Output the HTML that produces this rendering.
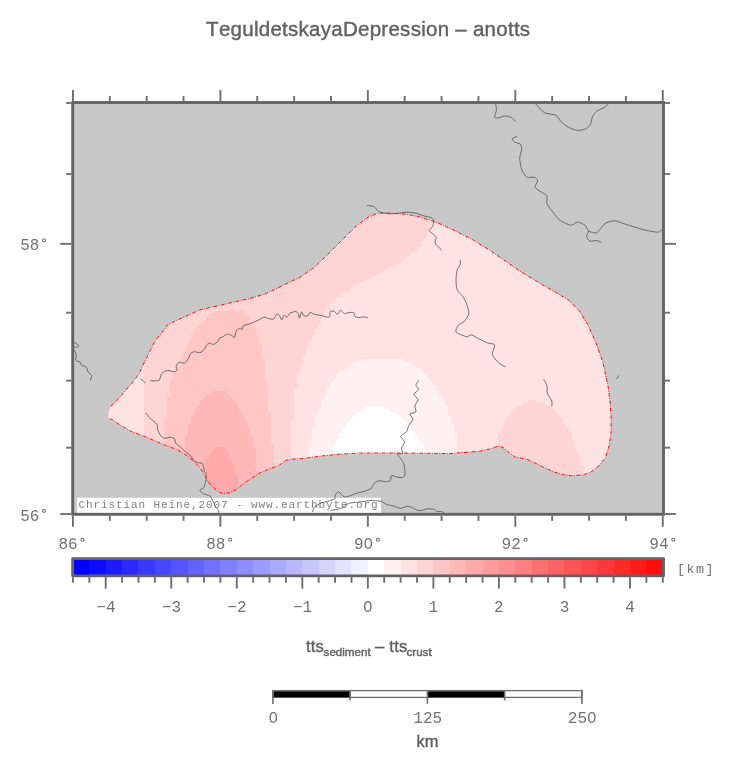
<!DOCTYPE html>
<html><head><meta charset="utf-8"><title>TeguldetskayaDepression - anotts</title>
<style>
html,body{margin:0;padding:0;background:#fff;}
body{width:731px;height:768px;overflow:hidden;}
svg{display:block;will-change:transform;}
text{font-kerning:none;font-variant-ligatures:none;}
.mono{font-family:"Liberation Mono",monospace;}
.sans{font-family:"Liberation Sans",sans-serif;}
</style></head><body>
<svg width="731" height="768" viewBox="0 0 731 768">
<rect x="0" y="0" width="731" height="768" fill="#ffffff"/>
<text class="sans" x="206.1" y="35.7" font-size="20.5" letter-spacing="0.27" fill="#606060" stroke="#606060" stroke-width="0.4">TeguldetskayaDepression – anotts</text>
<rect x="72.7" y="102.5" width="590.8" height="411.79999999999995" fill="#c8c8c8"/>
<defs><clipPath id="pc"><polygon points="108.4,418.5 108.4,411.5 110.6,406.4 115.6,401.7 123.4,393.1 131.2,383.8 139.1,373.6 144.5,361.9 150.0,350.9 155.3,340.3 161.9,332.7 167.4,325.0 176.0,320.6 187.0,315.7 199.0,310.2 210.0,307.5 220.0,305.3 247.7,299.0 264.2,294.4 300.0,277.2 313.7,267.9 327.4,254.7 341.0,241.0 354.7,227.4 360.0,223.1 369.4,216.5 377.6,213.3 388.1,213.1 406.9,214.2 420.9,217.3 437.3,222.6 453.7,230.1 472.4,239.5 491.2,251.2 509.9,264.1 520.0,271.1 535.6,280.7 554.7,291.7 568.4,299.9 579.3,310.8 587.6,324.5 595.8,342.3 602.6,361.4 606.8,380.0 608.3,387.7 610.2,403.0 611.2,418.3 611.2,431.7 609.3,445.1 605.5,457.6 598.7,466.2 591.1,471.9 583.4,474.8 571.9,475.8 564.3,474.8 554.7,472.3 543.2,467.1 531.7,461.4 526.0,458.9 515.4,457.2 508.7,452.4 503.0,447.4 498.2,446.1 489.6,449.0 480.0,451.2 450.0,453.6 402.6,453.0 361.6,453.0 341.0,454.0 320.5,456.1 303.9,458.5 291.6,459.2 285.5,460.5 279.3,465.3 269.7,468.7 258.8,473.5 250.6,479.0 242.4,484.5 235.5,489.9 230.0,492.7 223.2,493.8 217.7,491.3 210.0,484.4 205.3,476.6 200.6,468.8 194.4,461.7 186.6,455.5 176.6,449.4 165.6,445.5 154.7,440.8 143.8,436.1 131.2,431.4 120.3,425.2 112.5,419.7"/></clipPath>
<clipPath id="mc"><rect x="72.7" y="102.5" width="590.8" height="411.79999999999995"/></clipPath></defs>
<g clip-path="url(#pc)" shape-rendering="crispEdges">
<rect x="100" y="200" width="520" height="300" fill="#ffe3e3"/>
<path fill="#ffd4d4" d="M143.6 205.1h292.4v3.00h-292.4zM143.6 208.0h292.4v3.00h-292.4zM143.6 211.0h289.5v3.00h-289.5zM143.6 214.0h289.5v3.00h-289.5zM143.6 216.9h289.5v3.00h-289.5zM143.6 219.9h289.5v3.00h-289.5zM143.6 222.8h286.5v3.00h-286.5zM143.6 225.8h286.5v3.00h-286.5zM143.6 228.7h283.6v3.00h-283.6zM143.6 231.7h283.6v3.00h-283.6zM143.6 234.6h283.6v3.00h-283.6zM143.6 237.6h280.6v3.00h-280.6zM143.6 240.5h277.7v3.00h-277.7zM143.6 243.5h277.7v3.00h-277.7zM143.6 246.4h274.7v3.00h-274.7zM143.6 249.4h271.8v3.00h-271.8zM143.6 252.4h265.9v3.00h-265.9zM143.6 255.3h262.9v3.00h-262.9zM143.6 258.3h260.0v3.00h-260.0zM143.6 261.2h257.0v3.00h-257.0zM143.6 264.2h251.1v3.00h-251.1zM143.6 267.1h245.2v3.00h-245.2zM143.6 270.1h239.3v3.00h-239.3zM143.6 273.0h233.4v3.00h-233.4zM143.6 276.0h227.5v3.00h-227.5zM143.6 278.9h221.6v3.00h-221.6zM143.6 281.9h215.6v3.00h-215.6zM143.6 284.8h209.7v3.00h-209.7zM143.6 287.8h206.8v3.00h-206.8zM143.6 290.8h200.9v3.00h-200.9zM143.6 293.7h197.9v3.00h-197.9zM143.6 296.7h192.0v3.00h-192.0zM143.6 299.6h189.1v3.00h-189.1zM143.6 302.6h186.1v3.00h-186.1zM143.6 305.5h186.1v3.00h-186.1zM143.6 308.5h85.7v3.00h-85.7zM235.2 308.5h91.6v3.00h-91.6zM143.6 311.4h67.9v3.00h-67.9zM244.0 311.4h79.8v3.00h-79.8zM143.6 314.4h65.0v3.00h-65.0zM247.0 314.4h76.8v3.00h-76.8zM143.6 317.3h62.0v3.00h-62.0zM249.9 317.3h70.9v3.00h-70.9zM143.6 320.3h59.1v3.00h-59.1zM249.9 320.3h70.9v3.00h-70.9zM143.6 323.2h56.1v3.00h-56.1zM252.9 323.2h65.0v3.00h-65.0zM143.6 326.2h53.2v3.00h-53.2zM255.8 326.2h62.0v3.00h-62.0zM143.6 329.2h50.2v3.00h-50.2zM255.8 329.2h59.1v3.00h-59.1zM143.6 332.1h50.2v3.00h-50.2zM255.8 332.1h59.1v3.00h-59.1zM143.6 335.1h47.3v3.00h-47.3zM258.8 335.1h53.2v3.00h-53.2zM143.6 338.0h47.3v3.00h-47.3zM258.8 338.0h53.2v3.00h-53.2zM143.6 341.0h44.3v3.00h-44.3zM258.8 341.0h50.2v3.00h-50.2zM143.6 343.9h44.3v3.00h-44.3zM261.8 343.9h47.3v3.00h-47.3zM143.6 346.9h41.4v3.00h-41.4zM261.8 346.9h44.3v3.00h-44.3zM143.6 349.8h41.4v3.00h-41.4zM261.8 349.8h44.3v3.00h-44.3zM143.6 352.8h38.4v3.00h-38.4zM261.8 352.8h44.3v3.00h-44.3zM143.6 355.7h38.4v3.00h-38.4zM261.8 355.7h41.4v3.00h-41.4zM143.6 358.7h35.4v3.00h-35.4zM264.7 358.7h38.4v3.00h-38.4zM143.6 361.7h35.4v3.00h-35.4zM264.7 361.7h38.4v3.00h-38.4zM143.6 364.6h32.5v3.00h-32.5zM264.7 364.6h35.4v3.00h-35.4zM143.6 367.6h32.5v3.00h-32.5zM264.7 367.6h35.4v3.00h-35.4zM143.6 370.5h29.5v3.00h-29.5zM264.7 370.5h35.4v3.00h-35.4zM143.6 373.5h29.5v3.00h-29.5zM264.7 373.5h32.5v3.00h-32.5zM143.6 376.4h29.5v3.00h-29.5zM264.7 376.4h32.5v3.00h-32.5zM143.6 379.4h26.6v3.00h-26.6zM264.7 379.4h32.5v3.00h-32.5zM143.6 382.3h26.6v3.00h-26.6zM267.7 382.3h29.5v3.00h-29.5zM143.6 385.3h26.6v3.00h-26.6zM267.7 385.3h29.5v3.00h-29.5zM143.6 388.2h26.6v3.00h-26.6zM267.7 388.2h26.6v3.00h-26.6zM143.6 391.2h26.6v3.00h-26.6zM267.7 391.2h26.6v3.00h-26.6zM143.6 394.1h26.6v3.00h-26.6zM267.7 394.1h26.6v3.00h-26.6zM143.6 397.1h23.6v3.00h-23.6zM267.7 397.1h26.6v3.00h-26.6zM143.6 400.1h23.6v3.00h-23.6zM267.7 400.1h26.6v3.00h-26.6zM527.6 400.1h8.9v3.00h-8.9zM143.6 403.0h23.6v3.00h-23.6zM267.7 403.0h26.6v3.00h-26.6zM521.7 403.0h23.6v3.00h-23.6zM143.6 406.0h23.6v3.00h-23.6zM267.7 406.0h26.6v3.00h-26.6zM515.8 406.0h35.4v3.00h-35.4zM143.6 408.9h23.6v3.00h-23.6zM267.7 408.9h26.6v3.00h-26.6zM512.8 408.9h41.4v3.00h-41.4zM143.6 411.9h23.6v3.00h-23.6zM270.6 411.9h23.6v3.00h-23.6zM509.9 411.9h47.3v3.00h-47.3zM143.6 414.8h23.6v3.00h-23.6zM270.6 414.8h23.6v3.00h-23.6zM506.9 414.8h53.2v3.00h-53.2zM143.6 417.8h20.7v3.00h-20.7zM270.6 417.8h20.7v3.00h-20.7zM506.9 417.8h56.1v3.00h-56.1zM143.6 420.7h20.7v3.00h-20.7zM270.6 420.7h20.7v3.00h-20.7zM504.0 420.7h59.1v3.00h-59.1zM143.6 423.7h20.7v3.00h-20.7zM270.6 423.7h20.7v3.00h-20.7zM504.0 423.7h62.0v3.00h-62.0zM143.6 426.6h20.7v3.00h-20.7zM270.6 426.6h20.7v3.00h-20.7zM501.0 426.6h67.9v3.00h-67.9zM143.6 429.6h20.7v3.00h-20.7zM270.6 429.6h20.7v3.00h-20.7zM501.0 429.6h67.9v3.00h-67.9zM143.6 432.5h20.7v3.00h-20.7zM270.6 432.5h20.7v3.00h-20.7zM498.1 432.5h73.9v3.00h-73.9zM143.6 435.5h20.7v3.00h-20.7zM270.6 435.5h20.7v3.00h-20.7zM498.1 435.5h73.9v3.00h-73.9zM143.6 438.5h20.7v3.00h-20.7zM270.6 438.5h20.7v3.00h-20.7zM498.1 438.5h73.9v3.00h-73.9zM143.6 441.4h20.7v3.00h-20.7zM270.6 441.4h20.7v3.00h-20.7zM498.1 441.4h76.8v3.00h-76.8zM143.6 444.4h20.7v3.00h-20.7zM273.6 444.4h17.7v3.00h-17.7zM498.1 444.4h76.8v3.00h-76.8zM143.6 447.3h20.7v3.00h-20.7zM273.6 447.3h17.7v3.00h-17.7zM498.1 447.3h76.8v3.00h-76.8zM143.6 450.3h20.7v3.00h-20.7zM273.6 450.3h17.7v3.00h-17.7zM498.1 450.3h79.8v3.00h-79.8zM143.6 453.2h20.7v3.00h-20.7zM273.6 453.2h17.7v3.00h-17.7zM498.1 453.2h79.8v3.00h-79.8zM143.6 456.2h20.7v3.00h-20.7zM273.6 456.2h17.7v3.00h-17.7zM498.1 456.2h82.7v3.00h-82.7zM143.6 459.1h20.7v3.00h-20.7zM273.6 459.1h17.7v3.00h-17.7zM498.1 459.1h82.7v3.00h-82.7zM143.6 462.1h20.7v3.00h-20.7zM273.6 462.1h17.7v3.00h-17.7zM498.1 462.1h82.7v3.00h-82.7zM143.6 465.0h20.7v3.00h-20.7zM273.6 465.0h17.7v3.00h-17.7zM498.1 465.0h85.7v3.00h-85.7zM143.6 468.0h20.7v3.00h-20.7zM273.6 468.0h17.7v3.00h-17.7zM498.1 468.0h85.7v3.00h-85.7zM143.6 470.9h20.7v3.00h-20.7zM273.6 470.9h17.7v3.00h-17.7zM498.1 470.9h85.7v3.00h-85.7zM143.6 473.9h20.7v3.00h-20.7zM273.6 473.9h17.7v3.00h-17.7zM498.1 473.9h85.7v3.00h-85.7zM143.6 476.9h20.7v3.00h-20.7zM273.6 476.9h17.7v3.00h-17.7zM498.1 476.9h85.7v3.00h-85.7zM143.6 479.8h20.7v3.00h-20.7zM273.6 479.8h17.7v3.00h-17.7zM498.1 479.8h85.7v3.00h-85.7zM143.6 482.8h20.7v3.00h-20.7zM273.6 482.8h17.7v3.00h-17.7zM498.1 482.8h85.7v3.00h-85.7zM143.6 485.7h20.7v3.00h-20.7zM273.6 485.7h17.7v3.00h-17.7zM498.1 485.7h85.7v3.00h-85.7zM143.6 488.7h20.7v3.00h-20.7zM273.6 488.7h17.7v3.00h-17.7zM498.1 488.7h85.7v3.00h-85.7zM143.6 491.6h20.7v3.00h-20.7zM273.6 491.6h17.7v3.00h-17.7zM498.1 491.6h85.7v3.00h-85.7zM143.6 494.6h20.7v3.00h-20.7zM273.6 494.6h17.7v3.00h-17.7zM498.1 494.6h85.7v3.00h-85.7zM143.6 497.5h20.7v3.00h-20.7zM273.6 497.5h17.7v3.00h-17.7zM498.1 497.5h85.7v3.00h-85.7z"/>
<path fill="#ffc6c6" d="M229.3 308.5h5.9v3.00h-5.9zM211.5 311.4h32.5v3.00h-32.5zM208.6 314.4h38.4v3.00h-38.4zM205.6 317.3h44.3v3.00h-44.3zM202.7 320.3h47.3v3.00h-47.3zM199.7 323.2h53.2v3.00h-53.2zM196.8 326.2h59.1v3.00h-59.1zM193.8 329.2h62.0v3.00h-62.0zM193.8 332.1h62.0v3.00h-62.0zM190.9 335.1h67.9v3.00h-67.9zM190.9 338.0h67.9v3.00h-67.9zM187.9 341.0h70.9v3.00h-70.9zM187.9 343.9h73.9v3.00h-73.9zM185.0 346.9h76.8v3.00h-76.8zM185.0 349.8h76.8v3.00h-76.8zM182.0 352.8h79.8v3.00h-79.8zM182.0 355.7h79.8v3.00h-79.8zM179.0 358.7h85.7v3.00h-85.7zM179.0 361.7h85.7v3.00h-85.7zM176.1 364.6h88.6v3.00h-88.6zM176.1 367.6h88.6v3.00h-88.6zM173.1 370.5h91.6v3.00h-91.6zM173.1 373.5h91.6v3.00h-91.6zM173.1 376.4h91.6v3.00h-91.6zM170.2 379.4h94.5v3.00h-94.5zM170.2 382.3h97.5v3.00h-97.5zM170.2 385.3h97.5v3.00h-97.5zM170.2 388.2h97.5v3.00h-97.5zM170.2 391.2h41.4v3.00h-41.4zM226.3 391.2h41.4v3.00h-41.4zM170.2 394.1h35.4v3.00h-35.4zM229.3 394.1h38.4v3.00h-38.4zM167.2 397.1h35.4v3.00h-35.4zM232.2 397.1h35.4v3.00h-35.4zM167.2 400.1h32.5v3.00h-32.5zM235.2 400.1h32.5v3.00h-32.5zM167.2 403.0h32.5v3.00h-32.5zM238.1 403.0h29.5v3.00h-29.5zM167.2 406.0h29.5v3.00h-29.5zM238.1 406.0h29.5v3.00h-29.5zM167.2 408.9h26.6v3.00h-26.6zM241.1 408.9h26.6v3.00h-26.6zM167.2 411.9h26.6v3.00h-26.6zM241.1 411.9h29.5v3.00h-29.5zM167.2 414.8h23.6v3.00h-23.6zM244.0 414.8h26.6v3.00h-26.6zM164.3 417.8h26.6v3.00h-26.6zM244.0 417.8h26.6v3.00h-26.6zM164.3 420.7h26.6v3.00h-26.6zM247.0 420.7h23.6v3.00h-23.6zM164.3 423.7h23.6v3.00h-23.6zM247.0 423.7h23.6v3.00h-23.6zM164.3 426.6h23.6v3.00h-23.6zM249.9 426.6h20.7v3.00h-20.7zM164.3 429.6h23.6v3.00h-23.6zM249.9 429.6h20.7v3.00h-20.7zM164.3 432.5h23.6v3.00h-23.6zM249.9 432.5h20.7v3.00h-20.7zM164.3 435.5h20.7v3.00h-20.7zM252.9 435.5h17.7v3.00h-17.7zM164.3 438.5h20.7v3.00h-20.7zM252.9 438.5h17.7v3.00h-17.7zM164.3 441.4h20.7v3.00h-20.7zM252.9 441.4h17.7v3.00h-17.7zM164.3 444.4h20.7v3.00h-20.7zM252.9 444.4h20.7v3.00h-20.7zM164.3 447.3h20.7v3.00h-20.7zM255.8 447.3h17.7v3.00h-17.7zM164.3 450.3h20.7v3.00h-20.7zM255.8 450.3h17.7v3.00h-17.7zM164.3 453.2h20.7v3.00h-20.7zM255.8 453.2h17.7v3.00h-17.7zM164.3 456.2h20.7v3.00h-20.7zM255.8 456.2h17.7v3.00h-17.7zM164.3 459.1h20.7v3.00h-20.7zM255.8 459.1h17.7v3.00h-17.7zM164.3 462.1h20.7v3.00h-20.7zM255.8 462.1h17.7v3.00h-17.7zM164.3 465.0h20.7v3.00h-20.7zM255.8 465.0h17.7v3.00h-17.7zM164.3 468.0h20.7v3.00h-20.7zM255.8 468.0h17.7v3.00h-17.7zM164.3 470.9h20.7v3.00h-20.7zM258.8 470.9h14.8v3.00h-14.8zM164.3 473.9h20.7v3.00h-20.7zM258.8 473.9h14.8v3.00h-14.8zM164.3 476.9h20.7v3.00h-20.7zM258.8 476.9h14.8v3.00h-14.8zM164.3 479.8h20.7v3.00h-20.7zM258.8 479.8h14.8v3.00h-14.8zM164.3 482.8h20.7v3.00h-20.7zM258.8 482.8h14.8v3.00h-14.8zM164.3 485.7h20.7v3.00h-20.7zM258.8 485.7h14.8v3.00h-14.8zM164.3 488.7h20.7v3.00h-20.7zM258.8 488.7h14.8v3.00h-14.8zM164.3 491.6h20.7v3.00h-20.7zM258.8 491.6h14.8v3.00h-14.8zM164.3 494.6h20.7v3.00h-20.7zM258.8 494.6h14.8v3.00h-14.8zM164.3 497.5h20.7v3.00h-20.7zM258.8 497.5h14.8v3.00h-14.8z"/>
<path fill="#fff1f1" d="M359.2 358.7h44.3v3.00h-44.3zM353.3 361.7h59.1v3.00h-59.1zM347.4 364.6h67.9v3.00h-67.9zM344.5 367.6h76.8v3.00h-76.8zM338.6 370.5h85.7v3.00h-85.7zM335.6 373.5h91.6v3.00h-91.6zM335.6 376.4h91.6v3.00h-91.6zM332.7 379.4h97.5v3.00h-97.5zM329.7 382.3h103.4v3.00h-103.4zM329.7 385.3h106.3v3.00h-106.3zM326.7 388.2h109.3v3.00h-109.3zM326.7 391.2h112.3v3.00h-112.3zM323.8 394.1h118.2v3.00h-118.2zM323.8 397.1h118.2v3.00h-118.2zM320.8 400.1h124.1v3.00h-124.1zM320.8 403.0h124.1v3.00h-124.1zM320.8 406.0h44.3v3.00h-44.3zM382.9 406.0h65.0v3.00h-65.0zM317.9 408.9h44.3v3.00h-44.3zM388.8 408.9h59.1v3.00h-59.1zM317.9 411.9h38.4v3.00h-38.4zM394.7 411.9h53.2v3.00h-53.2zM314.9 414.8h38.4v3.00h-38.4zM400.6 414.8h50.2v3.00h-50.2zM314.9 417.8h35.4v3.00h-35.4zM403.5 417.8h47.3v3.00h-47.3zM314.9 420.7h32.5v3.00h-32.5zM406.5 420.7h44.3v3.00h-44.3zM314.9 423.7h29.5v3.00h-29.5zM409.5 423.7h44.3v3.00h-44.3zM312.0 426.6h29.5v3.00h-29.5zM412.4 426.6h41.4v3.00h-41.4zM312.0 429.6h29.5v3.00h-29.5zM415.4 429.6h38.4v3.00h-38.4zM312.0 432.5h26.6v3.00h-26.6zM415.4 432.5h41.4v3.00h-41.4zM312.0 435.5h26.6v3.00h-26.6zM418.3 435.5h38.4v3.00h-38.4zM312.0 438.5h23.6v3.00h-23.6zM418.3 438.5h38.4v3.00h-38.4zM309.0 441.4h26.6v3.00h-26.6zM421.3 441.4h35.4v3.00h-35.4zM309.0 444.4h23.6v3.00h-23.6zM424.2 444.4h32.5v3.00h-32.5zM309.0 447.3h23.6v3.00h-23.6zM424.2 447.3h32.5v3.00h-32.5zM309.0 450.3h23.6v3.00h-23.6zM424.2 450.3h32.5v3.00h-32.5zM309.0 453.2h23.6v3.00h-23.6zM424.2 453.2h32.5v3.00h-32.5zM309.0 456.2h23.6v3.00h-23.6zM427.2 456.2h29.5v3.00h-29.5zM309.0 459.1h23.6v3.00h-23.6zM427.2 459.1h32.5v3.00h-32.5zM309.0 462.1h23.6v3.00h-23.6zM427.2 462.1h32.5v3.00h-32.5zM309.0 465.0h23.6v3.00h-23.6zM427.2 465.0h32.5v3.00h-32.5zM309.0 468.0h23.6v3.00h-23.6zM427.2 468.0h32.5v3.00h-32.5zM309.0 470.9h23.6v3.00h-23.6zM427.2 470.9h32.5v3.00h-32.5zM309.0 473.9h23.6v3.00h-23.6zM427.2 473.9h32.5v3.00h-32.5zM309.0 476.9h23.6v3.00h-23.6zM427.2 476.9h32.5v3.00h-32.5zM309.0 479.8h23.6v3.00h-23.6zM427.2 479.8h32.5v3.00h-32.5zM309.0 482.8h23.6v3.00h-23.6zM427.2 482.8h32.5v3.00h-32.5zM309.0 485.7h23.6v3.00h-23.6zM427.2 485.7h32.5v3.00h-32.5zM309.0 488.7h23.6v3.00h-23.6zM427.2 488.7h32.5v3.00h-32.5zM309.0 491.6h23.6v3.00h-23.6zM427.2 491.6h32.5v3.00h-32.5zM309.0 494.6h23.6v3.00h-23.6zM427.2 494.6h32.5v3.00h-32.5zM309.0 497.5h23.6v3.00h-23.6zM427.2 497.5h32.5v3.00h-32.5z"/>
<path fill="#ffb8b8" d="M211.5 391.2h14.8v3.00h-14.8zM205.6 394.1h23.6v3.00h-23.6zM202.7 397.1h29.5v3.00h-29.5zM199.7 400.1h35.4v3.00h-35.4zM199.7 403.0h38.4v3.00h-38.4zM196.8 406.0h41.4v3.00h-41.4zM193.8 408.9h47.3v3.00h-47.3zM193.8 411.9h47.3v3.00h-47.3zM190.9 414.8h53.2v3.00h-53.2zM190.9 417.8h53.2v3.00h-53.2zM190.9 420.7h56.1v3.00h-56.1zM187.9 423.7h59.1v3.00h-59.1zM187.9 426.6h62.0v3.00h-62.0zM187.9 429.6h62.0v3.00h-62.0zM187.9 432.5h62.0v3.00h-62.0zM185.0 435.5h67.9v3.00h-67.9zM185.0 438.5h67.9v3.00h-67.9zM185.0 441.4h67.9v3.00h-67.9zM185.0 444.4h67.9v3.00h-67.9zM185.0 447.3h29.5v3.00h-29.5zM226.3 447.3h29.5v3.00h-29.5zM185.0 450.3h26.6v3.00h-26.6zM226.3 450.3h29.5v3.00h-29.5zM185.0 453.2h23.6v3.00h-23.6zM229.3 453.2h26.6v3.00h-26.6zM185.0 456.2h23.6v3.00h-23.6zM229.3 456.2h26.6v3.00h-26.6zM185.0 459.1h20.7v3.00h-20.7zM232.2 459.1h23.6v3.00h-23.6zM185.0 462.1h20.7v3.00h-20.7zM232.2 462.1h23.6v3.00h-23.6zM185.0 465.0h20.7v3.00h-20.7zM235.2 465.0h20.7v3.00h-20.7zM185.0 468.0h20.7v3.00h-20.7zM235.2 468.0h20.7v3.00h-20.7zM185.0 470.9h20.7v3.00h-20.7zM235.2 470.9h23.6v3.00h-23.6zM185.0 473.9h20.7v3.00h-20.7zM238.1 473.9h20.7v3.00h-20.7zM185.0 476.9h20.7v3.00h-20.7zM238.1 476.9h20.7v3.00h-20.7zM185.0 479.8h20.7v3.00h-20.7zM238.1 479.8h20.7v3.00h-20.7zM185.0 482.8h20.7v3.00h-20.7zM238.1 482.8h20.7v3.00h-20.7zM185.0 485.7h20.7v3.00h-20.7zM238.1 485.7h20.7v3.00h-20.7zM185.0 488.7h20.7v3.00h-20.7zM238.1 488.7h20.7v3.00h-20.7zM185.0 491.6h20.7v3.00h-20.7zM241.1 491.6h17.7v3.00h-17.7zM185.0 494.6h20.7v3.00h-20.7zM241.1 494.6h17.7v3.00h-17.7zM185.0 497.5h20.7v3.00h-20.7zM241.1 497.5h17.7v3.00h-17.7z"/>
<path fill="#ffffff" d="M365.1 406.0h17.7v3.00h-17.7zM362.2 408.9h26.6v3.00h-26.6zM356.3 411.9h38.4v3.00h-38.4zM353.3 414.8h47.3v3.00h-47.3zM350.4 417.8h53.2v3.00h-53.2zM347.4 420.7h59.1v3.00h-59.1zM344.5 423.7h65.0v3.00h-65.0zM341.5 426.6h70.9v3.00h-70.9zM341.5 429.6h73.9v3.00h-73.9zM338.6 432.5h76.8v3.00h-76.8zM338.6 435.5h79.8v3.00h-79.8zM335.6 438.5h82.7v3.00h-82.7zM335.6 441.4h85.7v3.00h-85.7zM332.7 444.4h91.6v3.00h-91.6zM332.7 447.3h91.6v3.00h-91.6zM332.7 450.3h91.6v3.00h-91.6zM332.7 453.2h91.6v3.00h-91.6zM332.7 456.2h94.5v3.00h-94.5zM332.7 459.1h94.5v3.00h-94.5zM332.7 462.1h94.5v3.00h-94.5zM332.7 465.0h94.5v3.00h-94.5zM332.7 468.0h94.5v3.00h-94.5zM332.7 470.9h94.5v3.00h-94.5zM332.7 473.9h94.5v3.00h-94.5zM332.7 476.9h94.5v3.00h-94.5zM332.7 479.8h94.5v3.00h-94.5zM332.7 482.8h94.5v3.00h-94.5zM332.7 485.7h94.5v3.00h-94.5zM332.7 488.7h94.5v3.00h-94.5zM332.7 491.6h94.5v3.00h-94.5zM332.7 494.6h94.5v3.00h-94.5zM332.7 497.5h94.5v3.00h-94.5z"/>
<path fill="#ffaaaa" d="M214.5 447.3h11.8v3.00h-11.8zM211.5 450.3h14.8v3.00h-14.8zM208.6 453.2h20.7v3.00h-20.7zM208.6 456.2h20.7v3.00h-20.7zM205.6 459.1h26.6v3.00h-26.6zM205.6 462.1h26.6v3.00h-26.6zM205.6 465.0h29.5v3.00h-29.5zM205.6 468.0h29.5v3.00h-29.5zM205.6 470.9h29.5v3.00h-29.5zM205.6 473.9h32.5v3.00h-32.5zM205.6 476.9h32.5v3.00h-32.5zM205.6 479.8h32.5v3.00h-32.5zM205.6 482.8h32.5v3.00h-32.5zM205.6 485.7h32.5v3.00h-32.5zM205.6 488.7h32.5v3.00h-32.5zM205.6 491.6h35.4v3.00h-35.4zM205.6 494.6h35.4v3.00h-35.4zM205.6 497.5h35.4v3.00h-35.4z"/>
</g>
<polyline points="110.6,406.4 115.6,401.7 123.4,393.1 131.2,383.8 139.1,373.6 144.5,361.9 150.0,350.9 155.3,340.3 161.9,332.7 167.4,325.0 176.0,320.6 187.0,315.7 199.0,310.2 210.0,307.5 220.0,305.3 247.7,299.0 264.2,294.4 300.0,277.2 313.7,267.9 327.4,254.7 341.0,241.0 354.7,227.4 360.0,223.1 369.4,216.5 377.6,213.3 388.1,213.1 406.9,214.2 420.9,217.3 437.3,222.6 453.7,230.1 472.4,239.5 491.2,251.2 509.9,264.1 520.0,271.1 535.6,280.7 554.7,291.7 568.4,299.9 579.3,310.8 587.6,324.5 595.8,342.3 602.6,361.4 606.8,380.0 608.3,387.7 610.2,403.0 611.2,418.3 611.2,431.7 609.3,445.1 605.5,457.6 598.7,466.2 591.1,471.9 583.4,474.8 571.9,475.8 564.3,474.8 554.7,472.3 543.2,467.1 531.7,461.4 526.0,458.9 515.4,457.2 508.7,452.4 503.0,447.4 498.2,446.1 489.6,449.0 480.0,451.2 450.0,453.6 402.6,453.0 361.6,453.0 341.0,454.0 320.5,456.1 303.9,458.5 291.6,459.2 285.5,460.5 279.3,465.3 269.7,468.7 258.8,473.5 250.6,479.0 242.4,484.5 235.5,489.9 230.0,492.7 223.2,493.8 217.7,491.3 210.0,484.4 205.3,476.6 200.6,468.8 194.4,461.7 186.6,455.5 176.6,449.4 165.6,445.5 154.7,440.8 143.8,436.1 131.2,431.4 120.3,425.2 112.5,419.7 108.4,418.5" fill="none" stroke="#fa1010" stroke-width="1.0" stroke-dasharray="3.8 1.4 0.9 1.4"/>
<rect x="77.0" y="497.8" width="304.0" height="15.5" fill="#ffffff"/>
<text class="mono" x="78.5" y="508.0" font-size="11" letter-spacing="0.9" fill="#808080">Christian Heine,2007 - www.earthbyte.org</text>
<g id="rivers" clip-path="url(#mc)" fill="none" stroke="#585858" stroke-width="0.85" stroke-linejoin="round" stroke-linecap="round">
<path d="M141.0,379.2C141.3,379.4 143.0,380.6 143.5,381.0C144.0,381.4 144.9,382.6 145.1,382.8"/>
<path d="M150.6,380.6C151.0,380.7 153.1,381.0 154.0,381.0C154.9,381.0 156.8,380.7 157.5,380.6C158.2,380.5 158.9,380.9 159.4,380.0C159.9,379.1 160.7,374.9 161.7,373.7C162.7,372.5 165.9,370.7 167.5,370.5C169.1,370.3 173.0,371.9 174.2,371.8C175.4,371.7 176.8,370.6 177.0,369.9C177.2,369.2 175.8,367.1 176.1,366.1C176.3,365.1 177.9,362.6 179.0,362.2C180.1,361.8 183.5,363.7 184.7,363.2C185.9,362.7 187.8,359.6 188.5,358.4C189.2,357.2 189.7,354.4 190.4,353.6C191.1,352.8 193.1,351.8 194.3,351.7C195.5,351.6 198.8,352.9 200.0,352.7C201.2,352.5 203.1,350.8 203.9,349.8C204.7,348.8 206.0,345.8 206.7,345.0C207.4,344.2 208.8,343.2 209.6,343.1C210.4,343.0 212.3,344.6 213.4,344.4C214.5,344.2 217.5,342.0 218.2,341.2C218.9,340.4 218.6,338.9 219.2,338.3C219.8,337.8 222.1,337.3 223.0,336.8C223.9,336.3 225.7,334.3 226.8,334.1C227.9,333.9 230.6,335.0 231.6,335.4C232.6,335.8 233.9,337.9 234.5,337.3C235.1,336.7 235.7,331.7 236.4,330.6C237.1,329.5 239.5,328.4 240.2,328.3C240.9,328.2 241.8,330.0 242.2,329.7C242.6,329.4 242.2,326.6 243.1,325.9C244.0,325.2 247.8,324.5 249.6,323.9C251.4,323.2 255.4,321.5 257.2,320.7C259.0,319.9 262.5,317.5 263.9,317.2C265.3,316.9 267.5,318.4 268.7,318.6C269.9,318.9 272.5,319.7 273.5,319.2C274.5,318.7 275.7,314.9 276.4,314.4C277.1,313.9 278.6,314.6 279.3,315.3C280.0,316.0 281.2,320.1 281.8,320.1C282.4,320.1 283.1,315.7 283.7,315.3C284.3,314.9 286.1,317.4 286.9,317.2C287.7,317.0 288.7,314.1 289.8,313.4C290.9,312.7 294.4,311.4 295.5,311.5C296.6,311.6 297.9,313.0 298.4,313.8C298.9,314.6 299.0,318.4 299.4,318.2C299.8,318.0 301.1,312.2 301.7,311.9C302.2,311.6 303.0,315.2 303.8,315.7C304.6,316.2 307.2,316.1 308.0,315.7C308.8,315.3 309.1,312.6 309.9,312.4C310.7,312.2 313.1,314.0 314.7,314.4C316.3,314.8 320.8,315.3 322.4,315.7C323.9,316.1 326.2,317.1 327.1,317.2C328.1,317.3 329.6,317.0 330.0,316.3C330.4,315.6 329.5,312.5 330.0,311.9C330.5,311.2 332.9,310.8 333.9,311.1C334.9,311.4 336.9,314.5 337.7,314.4C338.5,314.3 339.8,310.1 340.6,310.0C341.4,309.9 343.2,313.1 344.4,313.4C345.6,313.7 348.9,312.4 350.1,312.4C351.3,312.3 353.4,312.5 354.0,313.0C354.6,313.5 354.3,315.7 354.9,316.3C355.5,316.9 357.8,317.5 358.8,317.6C359.8,317.7 361.5,316.9 362.6,316.9C363.7,316.9 366.8,317.5 367.4,317.6"/>
<path d="M145.9,413.3C146.5,414.0 149.2,417.4 150.6,418.8C152.0,420.1 156.0,422.8 156.9,424.2C157.8,425.6 157.2,428.2 157.7,429.7C158.2,431.2 159.9,434.8 160.8,435.9C161.7,437.0 163.5,438.1 164.7,438.3C165.9,438.5 168.9,437.1 170.2,437.2C171.5,437.3 174.1,438.4 174.8,439.1C175.5,439.8 174.9,442.0 175.6,443.0C176.3,444.0 179.1,445.8 180.3,446.9C181.5,448.0 183.7,450.5 185.0,451.6C186.3,452.7 189.4,454.4 190.5,455.5C191.6,456.6 192.7,459.3 193.6,460.2C194.5,461.1 196.4,462.1 197.5,462.5C198.6,462.9 201.4,462.7 202.2,463.3C203.0,463.9 203.5,466.1 203.8,467.2C204.0,468.3 204.2,471.1 204.5,471.9C204.8,472.7 205.9,472.4 206.1,473.4C206.3,474.4 206.4,477.9 206.1,479.7C205.8,481.5 204.5,486.2 203.8,487.5C203.0,488.8 199.8,489.5 199.8,490.3C199.8,491.1 202.5,493.0 203.8,493.8C205.0,494.5 208.8,495.1 210.0,496.1C211.2,497.1 212.3,500.1 213.1,501.6C213.9,503.1 215.6,506.7 216.2,507.8C216.9,508.9 218.3,509.6 218.6,510.2C218.9,510.8 218.6,512.2 218.6,512.5"/>
<path d="M367.5,205.5C368.3,205.7 372.7,206.0 374.1,206.7C375.5,207.4 376.9,210.5 378.7,211.4C380.4,212.3 385.8,213.5 388.1,213.7C390.5,213.9 395.1,213.5 397.5,213.3C399.9,213.1 404.6,212.1 406.9,212.1C409.2,212.1 414.0,212.8 416.2,213.3C418.4,213.8 422.5,215.6 424.4,216.1C426.3,216.6 430.2,217.1 431.4,217.7C432.6,218.3 433.6,219.7 433.8,220.8C434.0,221.9 433.2,225.4 432.6,226.6C432.0,227.8 429.1,229.7 429.1,230.6C429.1,231.5 431.7,232.9 432.6,233.7C433.5,234.5 435.8,236.0 436.1,237.2C436.4,238.4 434.7,241.8 435.0,243.0C435.3,244.2 437.7,246.1 438.5,247.0C439.3,247.9 441.1,249.6 441.5,250.0"/>
<path d="M460.0,260.6C460.0,261.0 460.7,262.9 460.3,264.1C459.9,265.3 457.7,268.1 457.2,270.0C456.7,271.9 456.0,276.8 456.0,279.3C456.0,281.8 456.3,287.7 457.2,289.9C458.1,292.1 461.9,295.1 463.1,296.9C464.3,298.6 465.9,301.8 466.6,303.9C467.3,305.9 469.2,311.1 468.9,313.3C468.6,315.5 465.5,320.0 464.2,321.5C462.9,323.0 459.4,323.7 458.4,325.0C457.4,326.3 455.0,330.5 456.0,332.0C457.0,333.5 464.7,336.3 466.6,336.7C468.5,337.1 469.7,334.5 471.3,334.8C472.9,335.1 477.4,338.1 479.5,339.1C481.6,340.1 485.8,342.3 487.7,343.0C489.6,343.7 494.1,343.5 494.7,344.9C495.3,346.3 492.0,352.1 492.4,354.3C492.8,356.5 496.6,360.9 498.2,362.5C499.8,364.1 504.3,366.2 505.2,366.7"/>
<path d="M543.8,379.5C544.2,380.3 546.5,384.0 547.0,385.7C547.5,387.4 546.8,391.5 547.4,393.4C548.0,395.3 551.2,399.4 551.8,401.0C552.3,402.6 551.8,405.3 551.8,405.9"/>
<path d="M418.6,380.7C418.3,381.3 415.9,384.2 415.9,385.3C415.9,386.4 418.9,388.2 418.6,389.4C418.4,390.5 414.0,393.2 413.9,394.5C413.8,395.8 417.9,398.2 418.0,399.6C418.1,401.0 415.2,404.3 414.9,405.8C414.6,407.3 416.5,410.9 415.9,411.9C415.3,412.9 410.2,413.1 409.8,414.0C409.4,414.9 413.0,417.7 412.9,419.1C412.8,420.5 409.6,423.8 408.8,425.3C408.0,426.8 407.7,430.0 406.7,431.4C405.7,432.8 400.9,435.3 400.6,436.6C400.4,437.9 404.6,440.3 404.7,441.7C404.8,443.1 401.9,446.5 401.6,447.9C401.3,449.3 403.1,452.2 402.6,453.0C402.1,453.8 397.9,453.5 397.5,454.0C397.1,454.5 398.7,456.0 399.5,457.1C400.3,458.2 402.9,461.1 403.6,463.2C404.3,465.2 405.2,471.7 405.1,473.5C405.0,475.3 403.8,477.2 402.6,477.6C401.4,478.0 396.8,476.9 395.4,476.6C394.0,476.4 391.9,475.1 391.3,475.6C390.7,476.1 391.1,479.9 390.3,480.7C389.5,481.5 386.6,481.7 385.2,481.7C383.8,481.7 380.4,480.4 379.0,480.7C377.6,481.0 374.8,482.9 373.9,483.8C373.0,484.7 372.8,487.0 371.8,487.9C370.8,488.8 367.5,490.3 365.7,490.9C363.9,491.5 360.1,492.2 357.5,493.0C354.9,493.8 347.4,497.2 345.1,497.1C342.8,497.0 340.1,492.4 339.0,492.0C337.9,491.6 336.5,493.1 335.9,494.0C335.3,494.9 335.8,498.0 333.9,499.2C332.0,500.4 322.9,502.3 320.5,503.3C318.1,504.3 315.4,506.4 314.4,507.4C313.4,508.4 312.9,511.0 312.7,511.5"/>
<path d="M330.8,510.4C332.1,510.1 338.7,509.3 341.0,508.4C343.3,507.5 346.7,504.1 349.3,503.3C351.9,502.5 359.0,502.1 361.6,501.8C364.2,501.5 367.4,500.7 369.8,500.6C372.2,500.5 379.1,500.7 381.1,501.2C383.2,501.7 384.5,503.7 386.2,504.3C387.9,504.9 392.6,505.8 394.4,506.3C396.2,506.8 399.1,508.4 400.6,508.4C402.1,508.4 405.3,506.4 406.7,506.3C408.1,506.2 410.3,506.8 411.8,507.4C413.3,508.0 417.1,510.6 419.0,510.8C420.9,511.0 425.3,509.0 427.2,508.8C429.1,508.6 433.2,509.1 434.4,509.4C435.6,509.7 435.6,511.2 436.5,511.5C437.4,511.8 440.7,511.3 441.6,511.5C442.5,511.7 443.4,512.7 443.7,512.9"/>
<path d="M495.6,103.8C495.7,104.6 496.5,108.4 496.4,110.1C496.3,111.8 494.3,116.2 494.6,117.2C494.9,118.2 497.6,117.9 498.9,117.7C500.2,117.5 503.6,115.9 505.2,115.9C506.8,115.9 510.3,117.0 511.6,117.7C512.9,118.4 514.9,121.0 515.4,121.5"/>
<path d="M535.6,103.8C536.7,104.9 542.0,111.3 544.5,112.7C547.0,114.1 553.9,114.1 555.9,115.2C557.9,116.3 559.3,120.0 560.9,121.5C562.5,123.0 566.4,126.2 568.5,127.3C570.6,128.4 575.3,130.2 577.4,130.4C579.5,130.6 583.4,129.7 585.0,129.1C586.6,128.5 589.0,126.9 590.0,125.3C591.0,123.7 591.8,118.2 592.6,116.5C593.4,114.8 595.0,112.5 596.4,111.4C597.8,110.3 602.5,108.5 604.0,107.6C605.5,106.6 607.9,104.3 608.5,103.8"/>
<path d="M516.6,136.7C516.1,136.9 512.6,137.9 512.3,138.5C512.0,139.1 513.1,141.1 514.1,141.8C515.1,142.5 519.4,143.4 520.4,144.3C521.4,145.2 521.8,147.7 521.7,149.4C521.6,151.1 519.7,155.7 519.7,158.2C519.7,160.7 520.8,167.2 521.7,169.6C522.6,172.0 525.2,176.2 526.8,177.2C528.4,178.1 533.0,176.7 534.4,177.2C535.8,177.7 537.5,179.7 537.6,181.0C537.7,182.3 534.6,185.9 535.1,187.3C535.6,188.7 540.4,191.3 541.9,192.4C543.4,193.5 546.4,194.8 547.0,196.2C547.6,197.6 546.2,201.8 547.0,203.8C547.8,205.9 551.7,210.6 553.3,212.6C554.9,214.6 557.5,218.6 559.7,220.2C561.9,221.8 568.9,225.1 571.1,225.3C573.3,225.5 575.7,222.0 577.4,222.0C579.1,222.0 583.6,224.2 585.0,225.3C586.4,226.4 587.4,230.2 588.8,231.1C590.2,232.0 595.0,233.2 596.4,232.9C597.8,232.7 599.1,230.3 600.2,229.1C601.3,227.9 603.5,224.6 605.2,223.5C606.9,222.4 611.9,220.7 614.1,220.7C616.3,220.7 620.0,222.4 622.9,223.3C625.8,224.2 633.6,226.8 636.9,227.8C640.2,228.8 646.8,230.6 649.5,231.1C652.2,231.6 656.9,232.3 658.4,232.1C659.9,231.9 661.3,229.9 661.7,229.6"/>
<path d="M588.8,231.1C588.5,231.8 586.6,235.4 586.7,236.7C586.9,238.0 588.8,240.7 590.0,241.2C591.2,241.7 595.0,240.4 596.4,240.5C597.8,240.6 600.8,242.0 601.4,242.2"/>
<path d="M73.9,342.2C74.5,342.6 78.0,344.5 78.5,345.1C79.0,345.8 78.1,347.2 77.5,347.4C76.9,347.6 74.4,346.8 73.9,346.7"/>
<path d="M73.9,349.7C74.1,350.1 75.2,351.8 75.5,352.6C75.8,353.5 76.5,355.6 76.5,356.5C76.5,357.4 75.4,358.8 75.5,359.4C75.6,360.0 76.7,361.1 77.2,361.4C77.7,361.7 79.3,361.2 79.8,361.7C80.3,362.1 80.6,364.3 81.4,365.0C82.2,365.7 85.5,366.3 86.3,367.2C87.1,368.1 87.5,371.1 88.2,372.1C88.9,373.1 91.2,374.4 91.5,375.4C91.8,376.4 90.6,379.4 90.5,380.0"/>
<path d="M616.8,378.6C617.0,378.2 618.4,376.2 618.6,375.8"/>
</g>
<rect x="72.7" y="102.5" width="590.8" height="411.79999999999995" fill="none" stroke="#636363" stroke-width="2.9"/>
<g stroke="#6e6e6e" stroke-width="1.9" fill="none">
<line x1="72.95" y1="101.05" x2="72.95" y2="90.05"/>
<line x1="72.95" y1="515.75" x2="72.95" y2="526.75"/>
<line x1="109.81" y1="101.05" x2="109.81" y2="95.95"/>
<line x1="109.81" y1="515.75" x2="109.81" y2="520.85"/>
<line x1="146.68" y1="101.05" x2="146.68" y2="95.95"/>
<line x1="146.68" y1="515.75" x2="146.68" y2="520.85"/>
<line x1="183.54" y1="101.05" x2="183.54" y2="95.95"/>
<line x1="183.54" y1="515.75" x2="183.54" y2="520.85"/>
<line x1="220.40" y1="101.05" x2="220.40" y2="90.05"/>
<line x1="220.40" y1="515.75" x2="220.40" y2="526.75"/>
<line x1="257.26" y1="101.05" x2="257.26" y2="95.95"/>
<line x1="257.26" y1="515.75" x2="257.26" y2="520.85"/>
<line x1="294.12" y1="101.05" x2="294.12" y2="95.95"/>
<line x1="294.12" y1="515.75" x2="294.12" y2="520.85"/>
<line x1="330.99" y1="101.05" x2="330.99" y2="95.95"/>
<line x1="330.99" y1="515.75" x2="330.99" y2="520.85"/>
<line x1="367.85" y1="101.05" x2="367.85" y2="90.05"/>
<line x1="367.85" y1="515.75" x2="367.85" y2="526.75"/>
<line x1="404.71" y1="101.05" x2="404.71" y2="95.95"/>
<line x1="404.71" y1="515.75" x2="404.71" y2="520.85"/>
<line x1="441.57" y1="101.05" x2="441.57" y2="95.95"/>
<line x1="441.57" y1="515.75" x2="441.57" y2="520.85"/>
<line x1="478.44" y1="101.05" x2="478.44" y2="95.95"/>
<line x1="478.44" y1="515.75" x2="478.44" y2="520.85"/>
<line x1="515.30" y1="101.05" x2="515.30" y2="90.05"/>
<line x1="515.30" y1="515.75" x2="515.30" y2="526.75"/>
<line x1="552.16" y1="101.05" x2="552.16" y2="95.95"/>
<line x1="552.16" y1="515.75" x2="552.16" y2="520.85"/>
<line x1="589.02" y1="101.05" x2="589.02" y2="95.95"/>
<line x1="589.02" y1="515.75" x2="589.02" y2="520.85"/>
<line x1="625.89" y1="101.05" x2="625.89" y2="95.95"/>
<line x1="625.89" y1="515.75" x2="625.89" y2="520.85"/>
<line x1="662.75" y1="101.05" x2="662.75" y2="90.05"/>
<line x1="662.75" y1="515.75" x2="662.75" y2="526.75"/>
<line x1="71.25" y1="103.0" x2="66.15" y2="103.0"/>
<line x1="664.95" y1="103.0" x2="670.05" y2="103.0"/>
<line x1="71.25" y1="173.9" x2="66.15" y2="173.9"/>
<line x1="664.95" y1="173.9" x2="670.05" y2="173.9"/>
<line x1="71.25" y1="243.85" x2="60.25" y2="243.85"/>
<line x1="664.95" y1="243.85" x2="675.95" y2="243.85"/>
<line x1="71.25" y1="312.7" x2="66.15" y2="312.7"/>
<line x1="664.95" y1="312.7" x2="670.05" y2="312.7"/>
<line x1="71.25" y1="380.7" x2="66.15" y2="380.7"/>
<line x1="664.95" y1="380.7" x2="670.05" y2="380.7"/>
<line x1="71.25" y1="447.7" x2="66.15" y2="447.7"/>
<line x1="664.95" y1="447.7" x2="670.05" y2="447.7"/>
<line x1="71.25" y1="514.0" x2="60.25" y2="514.0"/>
<line x1="664.95" y1="514.0" x2="675.95" y2="514.0"/>
</g>
<g class="mono" font-size="16.0" fill="#727272">
<text x="68.1" y="549.0" text-anchor="middle">86</text>
<text x="215.8" y="549.0" text-anchor="middle">88</text>
<text x="363.5" y="549.0" text-anchor="middle">90</text>
<text x="511.2" y="549.0" text-anchor="middle">92</text>
<text x="658.9" y="549.0" text-anchor="middle">94</text>
<text x="39.4" y="250.1" text-anchor="end">58</text>
<text x="39.4" y="520.7" text-anchor="end">56</text>
</g>
<rect x="81.05" y="538.25" width="2.9" height="2.7" rx="1.0" ry="1.0" fill="none" stroke="#727272" stroke-width="1.05"/>
<rect x="228.75" y="538.25" width="2.9" height="2.7" rx="1.0" ry="1.0" fill="none" stroke="#727272" stroke-width="1.05"/>
<rect x="376.45" y="538.25" width="2.9" height="2.7" rx="1.0" ry="1.0" fill="none" stroke="#727272" stroke-width="1.05"/>
<rect x="524.15" y="538.25" width="2.9" height="2.7" rx="1.0" ry="1.0" fill="none" stroke="#727272" stroke-width="1.05"/>
<rect x="671.85" y="538.25" width="2.9" height="2.7" rx="1.0" ry="1.0" fill="none" stroke="#727272" stroke-width="1.05"/>
<rect x="42.45" y="238.95" width="2.9" height="2.7" rx="1.0" ry="1.0" fill="none" stroke="#727272" stroke-width="1.05"/>
<rect x="42.45" y="509.55" width="2.9" height="2.7" rx="1.0" ry="1.0" fill="none" stroke="#727272" stroke-width="1.05"/>
<g shape-rendering="crispEdges">
<rect x="72.95" y="558.6" width="16.68" height="17.25" fill="#0000ff"/>
<rect x="89.33" y="558.6" width="16.68" height="17.25" fill="#0e0eff"/>
<rect x="105.72" y="558.6" width="16.68" height="17.25" fill="#1c1cff"/>
<rect x="122.10" y="558.6" width="16.68" height="17.25" fill="#2a2aff"/>
<rect x="138.48" y="558.6" width="16.68" height="17.25" fill="#3939ff"/>
<rect x="154.87" y="558.6" width="16.68" height="17.25" fill="#4747ff"/>
<rect x="171.25" y="558.6" width="16.68" height="17.25" fill="#5555ff"/>
<rect x="187.63" y="558.6" width="16.68" height="17.25" fill="#6363ff"/>
<rect x="204.02" y="558.6" width="16.68" height="17.25" fill="#7171ff"/>
<rect x="220.40" y="558.6" width="16.68" height="17.25" fill="#8080ff"/>
<rect x="236.78" y="558.6" width="16.68" height="17.25" fill="#8e8eff"/>
<rect x="253.17" y="558.6" width="16.68" height="17.25" fill="#9c9cff"/>
<rect x="269.55" y="558.6" width="16.68" height="17.25" fill="#aaaaff"/>
<rect x="285.93" y="558.6" width="16.68" height="17.25" fill="#b8b8ff"/>
<rect x="302.32" y="558.6" width="16.68" height="17.25" fill="#c6c6ff"/>
<rect x="318.70" y="558.6" width="16.68" height="17.25" fill="#d4d4ff"/>
<rect x="335.08" y="558.6" width="16.68" height="17.25" fill="#e3e3ff"/>
<rect x="351.47" y="558.6" width="16.68" height="17.25" fill="#f1f1ff"/>
<rect x="367.85" y="558.6" width="16.68" height="17.25" fill="#ffffff"/>
<rect x="384.23" y="558.6" width="16.68" height="17.25" fill="#fff1f1"/>
<rect x="400.62" y="558.6" width="16.68" height="17.25" fill="#ffe3e3"/>
<rect x="417.00" y="558.6" width="16.68" height="17.25" fill="#ffd4d4"/>
<rect x="433.38" y="558.6" width="16.68" height="17.25" fill="#ffc6c6"/>
<rect x="449.77" y="558.6" width="16.68" height="17.25" fill="#ffb8b8"/>
<rect x="466.15" y="558.6" width="16.68" height="17.25" fill="#ffaaaa"/>
<rect x="482.53" y="558.6" width="16.68" height="17.25" fill="#ff9c9c"/>
<rect x="498.92" y="558.6" width="16.68" height="17.25" fill="#ff8e8e"/>
<rect x="515.30" y="558.6" width="16.68" height="17.25" fill="#ff8080"/>
<rect x="531.68" y="558.6" width="16.68" height="17.25" fill="#ff7171"/>
<rect x="548.07" y="558.6" width="16.68" height="17.25" fill="#ff6363"/>
<rect x="564.45" y="558.6" width="16.68" height="17.25" fill="#ff5555"/>
<rect x="580.83" y="558.6" width="16.68" height="17.25" fill="#ff4747"/>
<rect x="597.22" y="558.6" width="16.68" height="17.25" fill="#ff3939"/>
<rect x="613.60" y="558.6" width="16.68" height="17.25" fill="#ff2a2a"/>
<rect x="629.98" y="558.6" width="16.68" height="17.25" fill="#ff1c1c"/>
<rect x="646.37" y="558.6" width="16.68" height="17.25" fill="#ff0e0e"/>
</g>
<rect x="72.7" y="558.6" width="590.8" height="17.25" fill="none" stroke="#636363" stroke-width="2.9" stroke-linejoin="round"/>
<g stroke="#6e6e6e" stroke-width="1.9" fill="none">
<line x1="72.95" y1="577.15" x2="72.95" y2="582.8"/>
<line x1="89.33" y1="577.15" x2="89.33" y2="582.8"/>
<line x1="105.72" y1="577.15" x2="105.72" y2="588.6"/>
<line x1="122.10" y1="577.15" x2="122.10" y2="582.8"/>
<line x1="138.48" y1="577.15" x2="138.48" y2="582.8"/>
<line x1="154.87" y1="577.15" x2="154.87" y2="582.8"/>
<line x1="171.25" y1="577.15" x2="171.25" y2="588.6"/>
<line x1="187.63" y1="577.15" x2="187.63" y2="582.8"/>
<line x1="204.02" y1="577.15" x2="204.02" y2="582.8"/>
<line x1="220.40" y1="577.15" x2="220.40" y2="582.8"/>
<line x1="236.78" y1="577.15" x2="236.78" y2="588.6"/>
<line x1="253.17" y1="577.15" x2="253.17" y2="582.8"/>
<line x1="269.55" y1="577.15" x2="269.55" y2="582.8"/>
<line x1="285.93" y1="577.15" x2="285.93" y2="582.8"/>
<line x1="302.32" y1="577.15" x2="302.32" y2="588.6"/>
<line x1="318.70" y1="577.15" x2="318.70" y2="582.8"/>
<line x1="335.08" y1="577.15" x2="335.08" y2="582.8"/>
<line x1="351.47" y1="577.15" x2="351.47" y2="582.8"/>
<line x1="367.85" y1="577.15" x2="367.85" y2="588.6"/>
<line x1="384.23" y1="577.15" x2="384.23" y2="582.8"/>
<line x1="400.62" y1="577.15" x2="400.62" y2="582.8"/>
<line x1="417.00" y1="577.15" x2="417.00" y2="582.8"/>
<line x1="433.38" y1="577.15" x2="433.38" y2="588.6"/>
<line x1="449.77" y1="577.15" x2="449.77" y2="582.8"/>
<line x1="466.15" y1="577.15" x2="466.15" y2="582.8"/>
<line x1="482.53" y1="577.15" x2="482.53" y2="582.8"/>
<line x1="498.92" y1="577.15" x2="498.92" y2="588.6"/>
<line x1="515.30" y1="577.15" x2="515.30" y2="582.8"/>
<line x1="531.68" y1="577.15" x2="531.68" y2="582.8"/>
<line x1="548.07" y1="577.15" x2="548.07" y2="582.8"/>
<line x1="564.45" y1="577.15" x2="564.45" y2="588.6"/>
<line x1="580.83" y1="577.15" x2="580.83" y2="582.8"/>
<line x1="597.22" y1="577.15" x2="597.22" y2="582.8"/>
<line x1="613.60" y1="577.15" x2="613.60" y2="582.8"/>
<line x1="629.98" y1="577.15" x2="629.98" y2="588.6"/>
<line x1="646.37" y1="577.15" x2="646.37" y2="582.8"/>
<line x1="662.75" y1="577.15" x2="662.75" y2="582.8"/>
</g>
<g class="mono" font-size="16.0" fill="#727272" text-anchor="middle">
<text x="106.0" y="611.9">−4</text>
<text x="171.6" y="611.9">−3</text>
<text x="237.1" y="611.9">−2</text>
<text x="302.6" y="611.9">−1</text>
<text x="367.8" y="611.9">0</text>
<text x="433.4" y="611.9">1</text>
<text x="498.9" y="611.9">2</text>
<text x="564.5" y="611.9">3</text>
<text x="630.0" y="611.9">4</text>
</g>
<text class="mono" x="677.0" y="572.8" font-size="13.4" letter-spacing="1.5" fill="#727272">[km]</text>
<g class="sans" fill="#606060" stroke="#606060" stroke-width="0.4">
<text x="305.9" y="651.6" font-size="16.6" letter-spacing="0.25">tts</text>
<text x="323.6" y="655.8" font-size="11.6">sediment</text>
<text x="374.9" y="651.6" font-size="16.6">–</text>
<text x="389.3" y="651.6" font-size="16.6" letter-spacing="0.25">tts</text>
<text x="406.5" y="655.8" font-size="11.6">crust</text>
</g>
<rect x="272.9" y="690.6" width="309.0" height="6.7999999999999545" fill="#ffffff" stroke="#6e6e6e" stroke-width="1.3"/>
<rect x="273.59999999999997" y="691.3000000000001" width="76.35" height="5.90" fill="#000000"/>
<rect x="428.10" y="691.3000000000001" width="76.35" height="5.90" fill="#000000"/>
<g stroke="#6e6e6e" stroke-width="1.6" fill="none">
<line x1="272.90" y1="689.95" x2="272.90" y2="703.9"/>
<line x1="350.15" y1="689.95" x2="350.15" y2="700.5"/>
<line x1="427.40" y1="689.95" x2="427.40" y2="703.9"/>
<line x1="504.65" y1="689.95" x2="504.65" y2="700.5"/>
<line x1="581.90" y1="689.95" x2="581.90" y2="703.9"/>
</g>
<g class="mono" font-size="16.0" fill="#727272" text-anchor="middle">
<text x="273.2" y="723.3">0</text>
<text x="427.7" y="723.3">125</text>
<text x="582.2" y="723.3">250</text>
</g>
<text class="sans" x="427.4" y="746.8" font-size="16.4" text-anchor="middle" fill="#606060" stroke="#606060" stroke-width="0.4">km</text>
<rect x="366.90" y="541.10" width="3.0" height="3.2" fill="#ffffff"/>
<rect x="366.45" y="604.00" width="3.0" height="3.2" fill="#ffffff"/>
<rect x="271.80" y="715.40" width="3.0" height="3.2" fill="#ffffff"/>
<rect x="590.40" y="715.40" width="3.0" height="3.2" fill="#ffffff"/>
</svg>
</body></html>
